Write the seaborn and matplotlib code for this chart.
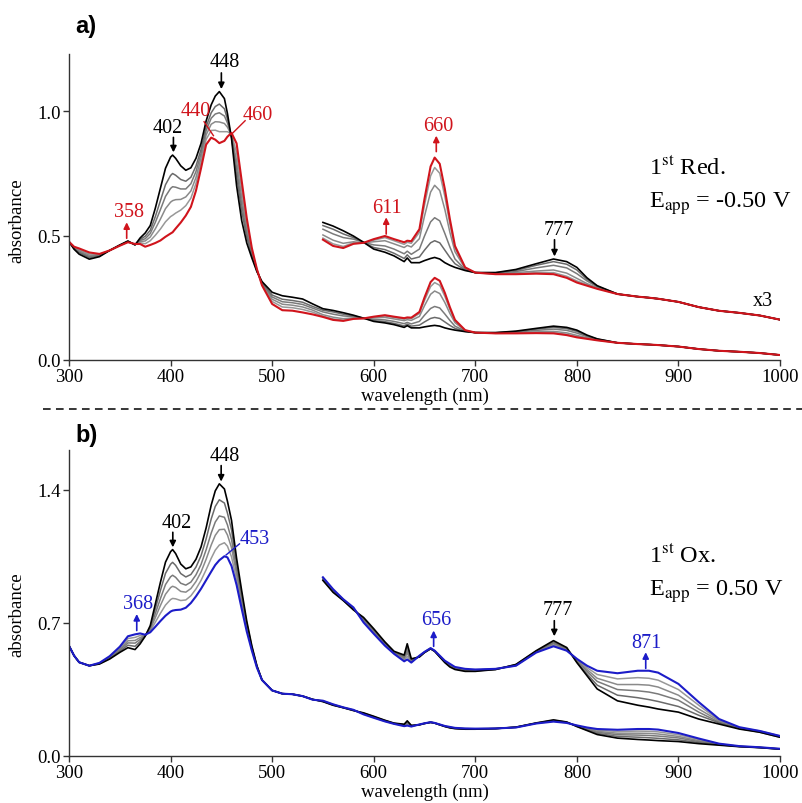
import matplotlib
matplotlib.use("Agg")
import matplotlib.pyplot as plt
import seaborn as sns
from matplotlib.lines import Line2D

# wavelengths (nm) shared by every spectrum
wavelength = [300, 305, 310, 320, 330, 340, 350, 358, 365, 370,
              375, 380, 385, 390, 395, 400, 402, 405, 410, 415,
              420, 425, 430, 435, 440, 444, 448, 453, 456, 460,
              465, 470, 475, 480, 485, 490, 500, 510, 520, 530,
              540, 550, 560, 570, 580, 590, 600, 611, 620, 630,
              633, 637, 645, 650, 656, 660, 665, 670, 675, 680,
              690, 700, 720, 740, 760, 777, 790, 800, 810, 820,
              840, 860, 871, 880, 900, 920, 940, 960, 980, 1000]

# a) 1st reduction: start (black), intermediates (gray), end (red)
a_black = [0.475, 0.445, 0.425, 0.405, 0.415, 0.440, 0.462, 0.478, 0.462, 0.490,
           0.510, 0.540, 0.610, 0.690, 0.770, 0.815, 0.823, 0.810, 0.780, 0.762,
           0.772, 0.810, 0.870, 0.960, 1.025, 1.060, 1.078, 1.050, 0.990, 0.890,
           0.700, 0.560, 0.470, 0.410, 0.355, 0.315, 0.272, 0.258, 0.252, 0.245,
           0.225, 0.206, 0.199, 0.190, 0.180, 0.168, 0.155, 0.149, 0.142, 0.131,
           0.138, 0.129, 0.129, 0.133, 0.137, 0.139, 0.136, 0.129, 0.124, 0.120,
           0.114, 0.110, 0.110, 0.116, 0.127, 0.136, 0.131, 0.120, 0.100, 0.085,
           0.069, 0.064, 0.062, 0.060, 0.054, 0.044, 0.037, 0.033, 0.028, 0.020]

a_gray1 = [0.475, 0.447, 0.431, 0.411, 0.418, 0.440, 0.461, 0.477, 0.463, 0.484,
           0.497, 0.521, 0.576, 0.640, 0.704, 0.741, 0.749, 0.742, 0.725, 0.718,
           0.734, 0.779, 0.846, 0.937, 0.993, 1.018, 1.028, 1.009, 0.968, 0.895,
           0.741, 0.598, 0.494, 0.420, 0.357, 0.311, 0.261, 0.244, 0.239, 0.232,
           0.215, 0.200, 0.193, 0.184, 0.177, 0.168, 0.158, 0.154, 0.147, 0.137,
           0.144, 0.136, 0.140, 0.153, 0.167, 0.171, 0.167, 0.153, 0.139, 0.127,
           0.115, 0.110, 0.110, 0.114, 0.124, 0.131, 0.126, 0.115, 0.097, 0.084,
           0.069, 0.064, 0.062, 0.060, 0.054, 0.044, 0.037, 0.033, 0.028, 0.020]

a_gray2 = [0.475, 0.449, 0.434, 0.416, 0.420, 0.440, 0.461, 0.476, 0.464, 0.480,
           0.487, 0.508, 0.553, 0.604, 0.657, 0.689, 0.696, 0.694, 0.687, 0.687,
           0.708, 0.757, 0.829, 0.921, 0.971, 0.988, 0.993, 0.980, 0.952, 0.899,
           0.770, 0.626, 0.511, 0.426, 0.359, 0.309, 0.253, 0.234, 0.230, 0.223,
           0.208, 0.193, 0.184, 0.177, 0.174, 0.168, 0.163, 0.161, 0.155, 0.146,
           0.151, 0.145, 0.155, 0.180, 0.207, 0.215, 0.209, 0.185, 0.159, 0.136,
           0.116, 0.110, 0.109, 0.112, 0.119, 0.124, 0.119, 0.108, 0.094, 0.083,
           0.069, 0.064, 0.062, 0.060, 0.054, 0.044, 0.037, 0.033, 0.028, 0.020]

a_gray3 = [0.475, 0.451, 0.439, 0.421, 0.421, 0.440, 0.460, 0.475, 0.464, 0.476,
           0.478, 0.494, 0.527, 0.566, 0.608, 0.634, 0.640, 0.644, 0.645, 0.655,
           0.679, 0.733, 0.811, 0.904, 0.947, 0.957, 0.956, 0.950, 0.935, 0.903,
           0.800, 0.654, 0.529, 0.434, 0.361, 0.306, 0.244, 0.224, 0.220, 0.213,
           0.200, 0.182, 0.172, 0.166, 0.169, 0.167, 0.169, 0.171, 0.165, 0.158,
           0.162, 0.159, 0.175, 0.218, 0.264, 0.277, 0.267, 0.231, 0.187, 0.150,
           0.118, 0.110, 0.108, 0.110, 0.113, 0.115, 0.109, 0.099, 0.089, 0.081,
           0.069, 0.064, 0.062, 0.060, 0.054, 0.044, 0.037, 0.033, 0.028, 0.020]

a_gray4 = [0.475, 0.453, 0.443, 0.426, 0.424, 0.440, 0.460, 0.474, 0.465, 0.471,
           0.467, 0.479, 0.501, 0.526, 0.555, 0.576, 0.581, 0.590, 0.602, 0.620,
           0.650, 0.709, 0.792, 0.886, 0.922, 0.923, 0.917, 0.917, 0.917, 0.907,
           0.833, 0.685, 0.548, 0.441, 0.363, 0.303, 0.235, 0.213, 0.210, 0.203,
           0.192, 0.176, 0.165, 0.160, 0.167, 0.167, 0.172, 0.177, 0.171, 0.164,
           0.168, 0.166, 0.187, 0.239, 0.295, 0.311, 0.300, 0.256, 0.203, 0.157,
           0.119, 0.110, 0.107, 0.108, 0.110, 0.110, 0.103, 0.094, 0.087, 0.080,
           0.069, 0.064, 0.062, 0.060, 0.054, 0.044, 0.037, 0.033, 0.028, 0.020]

a_red = [0.475, 0.455, 0.448, 0.432, 0.426, 0.440, 0.459, 0.473, 0.466, 0.466,
         0.455, 0.462, 0.470, 0.480, 0.495, 0.508, 0.513, 0.528, 0.552, 0.580,
         0.615, 0.680, 0.770, 0.865, 0.893, 0.885, 0.871, 0.880, 0.897, 0.912,
         0.870, 0.720, 0.570, 0.450, 0.365, 0.300, 0.225, 0.200, 0.198, 0.191,
         0.183, 0.173, 0.161, 0.157, 0.165, 0.167, 0.174, 0.180, 0.174, 0.168,
         0.171, 0.170, 0.193, 0.251, 0.313, 0.330, 0.318, 0.270, 0.212, 0.161,
         0.120, 0.110, 0.107, 0.107, 0.108, 0.107, 0.100, 0.091, 0.085, 0.079,
         0.069, 0.064, 0.062, 0.060, 0.054, 0.044, 0.037, 0.033, 0.028, 0.020]

# b) 1st oxidation: start (black), intermediates (gray), end (blue)
b_black = [0.580, 0.528, 0.493, 0.475, 0.484, 0.510, 0.545, 0.570, 0.560, 0.590,
           0.630, 0.686, 0.800, 0.914, 1.020, 1.075, 1.086, 1.065, 1.010, 0.985,
           0.995, 1.035, 1.100, 1.200, 1.320, 1.395, 1.432, 1.405, 1.340, 1.240,
           1.040, 0.870, 0.710, 0.580, 0.475, 0.400, 0.345, 0.328, 0.325, 0.315,
           0.298, 0.286, 0.267, 0.254, 0.239, 0.227, 0.209, 0.188, 0.173, 0.167,
           0.185, 0.161, 0.164, 0.171, 0.177, 0.173, 0.164, 0.155, 0.148, 0.144,
           0.141, 0.141, 0.144, 0.152, 0.174, 0.190, 0.179, 0.155, 0.134, 0.113,
           0.094, 0.087, 0.084, 0.081, 0.076, 0.065, 0.057, 0.049, 0.044, 0.036]

b_gray1 = [0.580, 0.528, 0.493, 0.475, 0.485, 0.513, 0.551, 0.583, 0.577, 0.602,
           0.632, 0.679, 0.775, 0.871, 0.961, 1.009, 1.019, 1.003, 0.960, 0.942,
           0.955, 0.994, 1.054, 1.142, 1.247, 1.313, 1.348, 1.331, 1.278, 1.190,
           1.011, 0.850, 0.698, 0.575, 0.473, 0.400, 0.345, 0.328, 0.325, 0.315,
           0.298, 0.287, 0.268, 0.254, 0.240, 0.225, 0.207, 0.187, 0.172, 0.165,
           0.180, 0.160, 0.164, 0.171, 0.177, 0.173, 0.164, 0.156, 0.149, 0.145,
           0.142, 0.142, 0.144, 0.152, 0.173, 0.188, 0.178, 0.156, 0.137, 0.119,
           0.103, 0.099, 0.096, 0.093, 0.085, 0.071, 0.059, 0.050, 0.044, 0.036]

b_gray2 = [0.580, 0.528, 0.493, 0.475, 0.487, 0.516, 0.558, 0.595, 0.594, 0.613,
           0.633, 0.671, 0.750, 0.828, 0.902, 0.943, 0.951, 0.940, 0.909, 0.899,
           0.915, 0.953, 1.008, 1.085, 1.173, 1.231, 1.263, 1.256, 1.216, 1.139,
           0.981, 0.830, 0.687, 0.570, 0.471, 0.400, 0.345, 0.328, 0.325, 0.315,
           0.297, 0.288, 0.269, 0.255, 0.241, 0.224, 0.206, 0.185, 0.171, 0.163,
           0.174, 0.158, 0.165, 0.171, 0.177, 0.173, 0.165, 0.156, 0.150, 0.146,
           0.143, 0.142, 0.144, 0.151, 0.173, 0.186, 0.177, 0.158, 0.141, 0.125,
           0.112, 0.110, 0.108, 0.105, 0.095, 0.076, 0.060, 0.050, 0.045, 0.037]

b_gray3 = [0.580, 0.528, 0.493, 0.475, 0.488, 0.519, 0.563, 0.606, 0.608, 0.623,
           0.635, 0.665, 0.728, 0.792, 0.851, 0.886, 0.893, 0.887, 0.866, 0.862,
           0.881, 0.918, 0.968, 1.035, 1.110, 1.161, 1.191, 1.193, 1.163, 1.096,
           0.956, 0.813, 0.677, 0.565, 0.469, 0.400, 0.345, 0.328, 0.325, 0.315,
           0.297, 0.289, 0.270, 0.255, 0.241, 0.222, 0.204, 0.184, 0.171, 0.161,
           0.170, 0.157, 0.165, 0.172, 0.178, 0.174, 0.165, 0.157, 0.151, 0.146,
           0.143, 0.143, 0.145, 0.151, 0.172, 0.185, 0.176, 0.159, 0.144, 0.130,
           0.120, 0.120, 0.119, 0.116, 0.103, 0.081, 0.062, 0.051, 0.045, 0.037]

b_gray4 = [0.580, 0.528, 0.493, 0.475, 0.489, 0.522, 0.569, 0.618, 0.624, 0.634,
           0.636, 0.658, 0.704, 0.751, 0.794, 0.823, 0.829, 0.827, 0.818, 0.821,
           0.843, 0.879, 0.924, 0.980, 1.040, 1.083, 1.110, 1.122, 1.104, 1.048,
           0.928, 0.794, 0.666, 0.560, 0.467, 0.400, 0.345, 0.328, 0.325, 0.315,
           0.296, 0.290, 0.271, 0.256, 0.242, 0.221, 0.203, 0.183, 0.170, 0.159,
           0.165, 0.156, 0.166, 0.172, 0.178, 0.174, 0.166, 0.157, 0.152, 0.147,
           0.144, 0.143, 0.145, 0.150, 0.172, 0.183, 0.175, 0.160, 0.147, 0.136,
           0.129, 0.131, 0.130, 0.127, 0.112, 0.087, 0.063, 0.051, 0.046, 0.038]

b_blue = [0.580, 0.528, 0.493, 0.475, 0.490, 0.525, 0.575, 0.630, 0.640, 0.645,
          0.638, 0.651, 0.680, 0.710, 0.738, 0.760, 0.765, 0.768, 0.770, 0.780,
          0.805, 0.840, 0.880, 0.925, 0.970, 1.005, 1.030, 1.051, 1.045, 1.000,
          0.900, 0.775, 0.655, 0.555, 0.465, 0.400, 0.345, 0.328, 0.325, 0.315,
          0.296, 0.291, 0.272, 0.256, 0.243, 0.219, 0.201, 0.182, 0.169, 0.157,
          0.160, 0.155, 0.166, 0.172, 0.178, 0.174, 0.166, 0.158, 0.153, 0.148,
          0.145, 0.144, 0.145, 0.150, 0.171, 0.181, 0.174, 0.161, 0.150, 0.142,
          0.138, 0.142, 0.142, 0.139, 0.121, 0.092, 0.065, 0.052, 0.046, 0.038]

plt.rcParams["font.family"] = ["Liberation Serif"]
plt.rcParams["mathtext.fontset"] = "stix"

RED = "#d0141c"
BLUE = "#1c1cc8"
GRAYS = ["#6a6a6a", "#7a7a7a", "#8a8a8a", "#989898"]

fig = plt.figure(figsize=(8.03, 8.04), dpi=100)
ax_a = fig.add_axes([69/803, 1-361/804, 711/803, 306/804])
ax_b = fig.add_axes([69/803, 1-757/804, 711/803, 306/804])


def draw(ax, black, grays, final, fcolor, scale, offset):
    # each spectrum once, plus the magnified copy from 550 nm on
    up = [i for i, w in enumerate(wavelength) if w >= 550]
    xs_up = [wavelength[i] for i in up]
    curves = [(g, c, 1.1) for g, c in zip(grays[::-1], GRAYS[::-1])]
    curves += [(black, "black", 1.2), (final, fcolor, 1.5)]
    for y, c, lw in curves:
        sns.lineplot(x=wavelength, y=y, color=c, linewidth=lw, ax=ax, sort=False)
        sns.lineplot(x=xs_up, y=[scale*y[i] + offset for i in up], color=c,
                     linewidth=lw, ax=ax, sort=False)


draw(ax_a, a_black, [a_gray1, a_gray2, a_gray3, a_gray4], a_red, RED, 2.1, 0.12)
draw(ax_b, b_black, [b_gray1, b_gray2, b_gray3, b_gray4], b_blue, BLUE, 3.3, -0.02)

for ax, ytop, ticks, lab_y in [(ax_a, 1.229, [0, 0.5, 1.0], 0.4575),
                               (ax_b, 1.61, [0, 0.7, 1.4], 0.464)]:
    ax.set_xlim(300, 1000)
    ax.set_ylim(0, ytop)
    ax.set_xticks(range(300, 1001, 100))
    ax.set_yticks(ticks)
    ax.set_yticklabels([f"{t:.1f}" for t in ticks])
    for s in ["top", "right"]:
        ax.spines[s].set_visible(False)
    for s in ["left", "bottom"]:
        ax.spines[s].set_linewidth(1.0)
        ax.spines[s].set_color("#333333")
    ax.tick_params(direction="out", length=4, width=1.0, labelsize=13.5, pad=2,
                   color="#333333")
    ax.set_xlabel("wavelength (nm)", fontsize=13.5, labelpad=1)
    ax.set_ylabel("absorbance", fontsize=13.5)
    ax.yaxis.set_label_coords(-0.062, lab_y)
    ax.patch.set_alpha(0)


def arrow(ax, x, y0, y1, color):
    ax.annotate("", xy=(x, y1), xytext=(x, y0),
                arrowprops=dict(arrowstyle="-|>", color=color, lw=1.2,
                                mutation_scale=9, shrinkA=0, shrinkB=0))


def label(ax, x, y, s, color, size=14.5, ha="center"):
    ax.text(x, y, s, color=color, fontsize=size, ha=ha, va="center")


# panel a
label(ax_a, 453.7, 1.197, "448", "black"); arrow(ax_a, 450, 1.153, 1.088, "black")
label(ax_a, 397, 0.934, "402", "black"); arrow(ax_a, 402.8, 0.894, 0.834, "black")
label(ax_a, 359.4, 0.597, "358", RED); arrow(ax_a, 356.8, 0.489, 0.553, RED)
label(ax_a, 424.8, 1.001, "440", RED)
ax_a.plot([433, 442.2], [0.957, 0.901], color=RED, lw=1.0)
label(ax_a, 485.5, 0.988, "460", RED)
ax_a.plot([473.4, 460.3], [0.961, 0.908], color=RED, lw=1.0)
label(ax_a, 613, 0.613, "611", RED); arrow(ax_a, 612.3, 0.506, 0.573, RED)
label(ax_a, 663.8, 0.941, "660", RED); arrow(ax_a, 661.6, 0.837, 0.901, RED)
label(ax_a, 782, 0.526, "777", "black"); arrow(ax_a, 778, 0.483, 0.416, "black")
label(ax_a, 983.4, 0.238, "x3", "black")
label(ax_a, 870.7, 0.774, r"1$^{\mathrm{st}}$ Red.", "black", 17.5, "left")
label(ax_a, 870.7, 0.633, r"E$_{\mathrm{app}}$ = -0.50 V", "black", 17.5, "left")

# panel b
label(ax_b, 453, 1.581, "448", "black"); arrow(ax_b, 449.8, 1.528, 1.444, "black")
label(ax_b, 406, 1.23, "402", "black"); arrow(ax_b, 402.2, 1.177, 1.098, "black")
label(ax_b, 482.6, 1.146, "453", BLUE)
ax_b.plot([467.8, 454.7], [1.116, 1.058], color=BLUE, lw=1.0)
label(ax_b, 368.3, 0.80, "368", BLUE); arrow(ax_b, 366.7, 0.66, 0.747, BLUE)
label(ax_b, 661.3, 0.718, "656", BLUE); arrow(ax_b, 659, 0.577, 0.66, BLUE)
label(ax_b, 781.4, 0.77, "777", "black"); arrow(ax_b, 777.8, 0.712, 0.63, "black")
label(ax_b, 868.5, 0.598, "871", BLUE); arrow(ax_b, 867.8, 0.461, 0.546, BLUE)
label(ax_b, 870.7, 1.054, r"1$^{\mathrm{st}}$ Ox.", "black", 17.5, "left")
label(ax_b, 870.7, 0.87, r"E$_{\mathrm{app}}$ = 0.50 V", "black", 17.5, "left")

fig.text(75/803, 1-27/804, "a)", fontsize=17, fontweight="bold",
         family="Liberation Sans", va="center", ha="left")
fig.text(75/803, 1-436/804, "b)", fontsize=17, fontweight="bold",
         family="Liberation Sans", va="center", ha="left")
fig.add_artist(Line2D([43/803, 1.0], [1-410/804, 1-410/804], transform=fig.transFigure,
                      color="black", lw=1.1, dashes=(5, 3.5)))

fig.savefig("out.png", dpi=100)
